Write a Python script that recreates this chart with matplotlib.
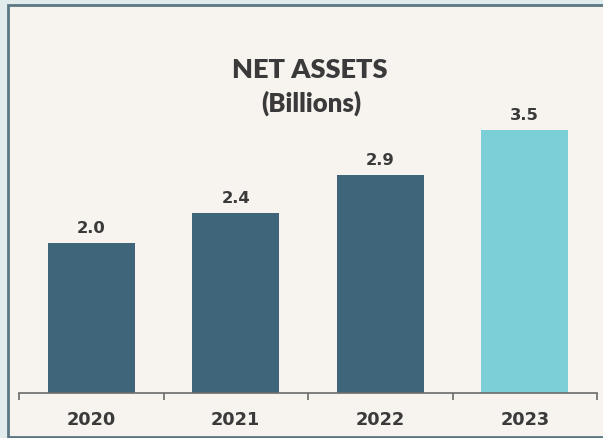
import matplotlib
matplotlib.use("Agg")
import matplotlib.pyplot as plt
from matplotlib.patches import Rectangle

# net assets per year, billions
years = ["2020", "2021", "2022", "2023"]
net_assets = [2.0, 2.4, 2.9, 3.5]
bar_colors = ["#3e6579", "#3e6579", "#3e6579", "#7ccfd7"]

BG = "#f7f4f0"
TEXT = "#3a3a3a"
NUM_FONT = ["DejaVu Sans"]

plt.rcParams["font.family"] = ["Lato", "DejaVu Sans"]

W, H = 603, 438
fig = plt.figure(figsize=(W / 100, H / 100), dpi=100)
fig.patch.set_facecolor("#e3ecec")

# panel with thin dark frame
panel = Rectangle((8 / W, 1 - 437 / H), 1.0, 432 / H, transform=fig.transFigure,
                  facecolor=BG, edgecolor="#5a7783", linewidth=2, zorder=-1)
fig.patches.append(panel)

base_px, top_px = 393, 30
ax = fig.add_axes([19 / W, 1 - base_px / H, (597 - 19) / W, (base_px - top_px) / H])
ax.set_zorder(2)
ax.patch.set_alpha(0)

x = range(len(years))
bars = ax.bar(x, net_assets, width=0.6, color=bar_colors, zorder=2)
ax.set_xlim(-0.5, len(years) - 0.5)
ax.set_ylim(0, (base_px - top_px) / 75.1)

for rect, val in zip(bars, net_assets):
    ax.annotate(f"{val:.1f}", (rect.get_x() + rect.get_width() / 2, val),
                xytext=(0, 5), textcoords="offset points", ha="center", va="bottom",
                fontsize=11.8, fontweight="bold", family=NUM_FONT, color=TEXT)

for side in ["top", "right", "left"]:
    ax.spines[side].set_visible(False)
ax.spines["bottom"].set_color("#6b6b6b")
ax.spines["bottom"].set_linewidth(1.2)
ax.set_yticks([])

ax.set_xticks(list(x))
ax.set_xticklabels(years, fontsize=12.8, fontweight="bold", family=NUM_FONT, color=TEXT)
ax.tick_params(axis="x", which="major", length=0, pad=13)
ax.set_xticks([i - 0.5 for i in range(len(years) + 1)], minor=True)
ax.tick_params(axis="x", which="minor", length=5, width=1.2, color="#6b6b6b", direction="out")

fig.text(310 / W, 1 - 70 / H, "NET ASSETS", ha="center", va="center",
         fontsize=19.5, fontweight="heavy", color=TEXT, zorder=3)
fig.text(311 / W, 1 - 103 / H, "(Billions)", ha="center", va="center",
         fontsize=18.5, fontweight="heavy", color=TEXT, zorder=3)

fig.savefig("out.png", dpi=100, facecolor=fig.get_facecolor())
